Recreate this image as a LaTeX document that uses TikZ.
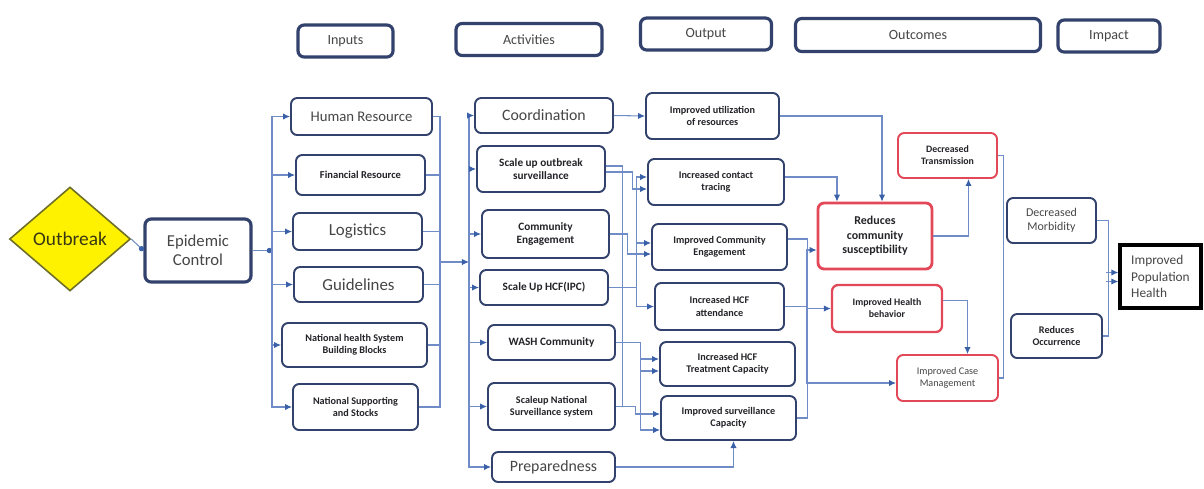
\documentclass[tikz,border=0pt]{standalone}
\usepackage{fontspec}
\setmainfont{Carlito}
\usetikzlibrary{shapes.geometric,arrows.meta,calc}
\definecolor{boxnavy}{RGB}{50,66,108}
\definecolor{txtgrey}{RGB}{70,70,70}
\definecolor{txtdark}{RGB}{35,35,40}
\definecolor{outred}{RGB}{226,72,88}
\definecolor{linkblue}{RGB}{112,140,198}
\definecolor{tipblue}{RGB}{58,96,168}
\definecolor{diamondline}{RGB}{110,110,40}
\begin{document}
\begin{tikzpicture}[x=0.02cm,y=-0.02cm,
    box/.style={draw=boxnavy, line width=1.1pt, rounded corners=3.5pt, fill=white, align=center,
      text=txtgrey, inner sep=1pt, font=\fontsize{9}{10}\selectfont},
    headbox/.style={box, line width=1.8pt, font=\fontsize{8}{9}\selectfont},
    smallbox/.style={box, text=txtdark, font=\bfseries\fontsize{5.8}{7}\selectfont},
    redbox/.style={smallbox, draw=outred},
    link/.style={draw=linkblue, line width=0.6pt},
    arr/.style={link, -{Latex[length=4pt,width=3.6pt,color=tipblue]}},
    dotlink/.style={link, -{Circle[length=3pt,color=tipblue]}}]
    \useasboundingbox (0,0) rectangle (1204,488);

    % column headers
    \node[headbox, minimum width=1.9cm, minimum height=0.64cm] (hIn) at (345.5,41) {Inputs};
    \node[headbox, minimum width=2.92cm, minimum height=0.64cm] (hAct) at (529,39.5) {Activities};
    \node[headbox, minimum width=2.62cm, minimum height=0.64cm] (hOut) at (706,34) {Output};
    \node[headbox, minimum width=4.9cm, minimum height=0.66cm] (hOutc) at (918,35) {Outcomes};
    \node[headbox, minimum width=2.04cm, minimum height=0.64cm] (hImp) at (1109,36) {Impact};

    % start
    \node[diamond, draw=diamondline, fill=yellow, line width=0.9pt, inner sep=0pt,
      minimum width=2.42cm, minimum height=2.08cm, text={rgb,255:red,55;green,55;blue,20},
      font=\fontsize{11}{12}\selectfont] (out) at (70,239) {Outbreak};
    \node[box, line width=1.8pt, minimum width=2.12cm, minimum height=1.26cm,
      font=\fontsize{9.5}{11}\selectfont] (epi) at (198,250.5) {Epidemic\\Control};

    % inputs
    \node[box, minimum width=2.82cm, minimum height=0.74cm, font=\fontsize{8.4}{10}\selectfont] (iHR) at (361.5,116.5) {Human Resource};
    \node[smallbox, minimum width=2.58cm, minimum height=0.8cm, font=\bfseries\fontsize{6}{7}\selectfont] (iFin) at (360.5,175) {Financial Resource};
    \node[box, minimum width=2.58cm, minimum height=0.74cm, font=\fontsize{9.6}{11}\selectfont] (iLog) at (357.5,231.5) {Logistics};
    \node[box, minimum width=2.58cm, minimum height=0.7cm, font=\fontsize{9.6}{11}\selectfont] (iGui) at (358.5,284.5) {Guidelines};
    \node[smallbox, minimum width=2.9cm, minimum height=0.88cm] (iNHS) at (354.5,345) {National health System\\Building Blocks};
    \node[smallbox, minimum width=2.5cm, minimum height=0.92cm] (iNSS) at (355.5,407) {National Supporting\\and Stocks};

    % activities
    \node[box, minimum width=2.76cm, minimum height=0.7cm] (aCoo) at (544,115.5) {Coordination};
    \node[smallbox, minimum width=2.56cm, minimum height=0.92cm, font=\bfseries\fontsize{6.4}{7.6}\selectfont] (aSus) at (541,169) {Scale up outbreak\\surveillance};
    \node[smallbox, minimum width=2.54cm, minimum height=0.96cm, font=\bfseries\fontsize{6.4}{7.6}\selectfont] (aCom) at (545.5,234) {Community\\Engagement};
    \node[smallbox, minimum width=2.56cm, minimum height=0.7cm, font=\bfseries\fontsize{6.4}{7.6}\selectfont] (aHcf) at (544,287.5) {Scale Up HCF(IPC)};
    \node[smallbox, minimum width=2.54cm, minimum height=0.7cm, font=\bfseries\fontsize{6.4}{7.6}\selectfont] (aWash) at (551.5,342.5) {WASH Community};
    \node[smallbox, minimum width=2.54cm, minimum height=0.94cm] (aSns) at (551.5,406.5) {Scaleup National\\Surveillance system};
    \node[box, minimum width=2.46cm, minimum height=0.6cm] (aPrep) at (553.5,467) {Preparedness};

    % outputs
    \node[smallbox, minimum width=2.66cm, minimum height=0.92cm] (oUti) at (712.5,116) {Improved utilization\\of resources};
    \node[smallbox, minimum width=2.72cm, minimum height=0.92cm] (oCon) at (716,182) {Increased contact\\tracing};
    \node[smallbox, minimum width=2.7cm, minimum height=0.92cm] (oEng) at (719.5,247) {Improved Community\\Engagement};
    \node[smallbox, minimum width=2.58cm, minimum height=0.94cm] (oAtt) at (719.5,306.5) {Increased HCF\\attendance};
    \node[smallbox, minimum width=2.7cm, minimum height=0.88cm] (oTre) at (727.5,364) {Increased HCF\\Treatment Capacity};
    \node[smallbox, minimum width=2.7cm, minimum height=0.88cm] (oSur) at (728.5,418) {Improved surveillance\\Capacity};

    % outcomes
    \node[redbox, minimum width=1.98cm, minimum height=0.9cm, font=\bfseries\fontsize{5.6}{6.8}\selectfont] (cTra) at (947.5,155.5) {Decreased\\Transmission};
    \node[redbox, line width=1.6pt, minimum width=2.28cm, minimum height=1.32cm, font=\bfseries\fontsize{6.8}{8.2}\selectfont] (cSus) at (875,236) {Reduces\\community\\susceptibility};
    \node[redbox, line width=1.3pt, minimum width=2.2cm, minimum height=0.94cm, font=\bfseries\fontsize{5.6}{6.8}\selectfont] (cBeh) at (887,308.5) {Improved Health\\behavior};
    \node[redbox, minimum width=2.02cm, minimum height=0.92cm, text=txtgrey, font=\fontsize{5.8}{7}\selectfont] (cCas) at (947.5,378) {Improved Case\\Management};

    % impact
    \node[box, minimum width=1.78cm, minimum height=0.9cm, font=\fontsize{6.8}{8}\selectfont] (mMor) at (1051.5,220.5) {Decreased\\Morbidity};
    \node[smallbox, minimum width=1.82cm, minimum height=0.88cm] (mOcc) at (1056.5,336) {Reduces\\Occurrence};
    \node[draw=black, line width=1.8pt, fill=white, text=txtgrey, align=left, inner sep=2pt,
      minimum width=1.62cm, minimum height=1.26cm, font=\fontsize{7.6}{9.4}\selectfont] (mPop) at (1160.5,276.5) {Improved\\Population\\Health};

    % outbreak to inputs
    \coordinate (tIn) at (272,250.5);
    \draw[dotlink] (out.east) -- (epi.west);
    \draw[dotlink] (epi.east) -- (tIn);
    \foreach \n in {iHR,iFin,iLog,iGui,iNHS,iNSS}
      \draw[arr] (tIn) |- (\n.west);

    % inputs to activities
    \coordinate (cIn) at (440,262);
    \coordinate (tAct) at (469,262);
    \foreach \n in {iHR,iFin,iLog,iGui,iNHS,iNSS}
      \draw[link] (\n.east) -| (cIn);
    \draw[arr] (cIn) -- (tAct);
    \foreach \n in {aCoo,aSus,aCom,aHcf,aWash,aSns,aPrep}
      \draw[arr] (tAct) |- (\n.west);

    % activities to outputs
    \draw[arr] (aCoo.east) -- (oUti.west);
    \draw[arr] ($(aSus.east)+(0,3)$) -- ++(27,0) |- ($(oCon.west)+(0,7)$);
    \draw[link] ($(aSus.east)+(0,-3)$) -- ++(17,0) |- (aSns.east);
    \draw[arr] (aSns.east) -- ++(20,0) |- ($(oSur.west)+(0,-4)$);
    \draw[arr] (aCom.east) -- ++(18,0) |- ($(oEng.west)+(0,7)$);
    \draw[arr] (aHcf.east) -- ++(28,0) |- ($(oCon.west)+(0,-5)$);
    \draw[arr] (aHcf.east) -- ++(28,0) |- ($(oEng.west)+(0,-4)$);
    \draw[arr] (aHcf.east) -- ++(28,0) |- (oAtt.west);
    \draw[arr] (aWash.east) -- ++(25,0) |- ($(oTre.west)+(0,-5)$);
    \draw[arr] (aWash.east) -- ++(25,0) |- ($(oTre.west)+(0,7)$);
    \draw[arr] (aWash.east) -- ++(25,0) |- ($(oSur.west)+(0,12)$);
    \draw[arr] (aPrep.east) -| ($(oSur.south)+(5,0)$);

    % outputs to outcomes
    \coordinate (hub) at (807,300);
    \draw[arr] (oUti.east) -| ($(cSus.north)+(7,0)$);
    \draw[arr] ($(oCon.east)+(0,-5)$) -| ($(cSus.north)+(-38,0)$);
    \draw[link] ($(oEng.east)+(0,-8)$) -- ++(20,0) |- (oSur.east);
    \draw[link] (oAtt.east) -- (oAtt.east -| hub);
    \draw[arr] (hub) |- ($(cSus.west)+(0,14)$);
    \draw[arr] (hub) |- (cBeh.west);
    \draw[arr] (hub) |- ($(cCas.west)+(0,5)$);
    \draw[arr] (cSus.east) -| ($(cTra.south)+(21,0)$);
    \draw[arr] ($(cBeh.east)+(0,-8)$) -| ($(cCas.north)+(20,0)$);

    % outcomes to impact
    \draw[link] (cTra.east) -- ++(6,0) |- (cCas.east);
    \draw[link] (mMor.east) -- ++(12,0) |- (mOcc.east);
    \draw[arr] ($(mPop.west)+(-12,-4)$) -- ($(mPop.west)+(0,-4)$);
    \draw[arr] ($(mPop.west)+(-12,5)$) -- ($(mPop.west)+(0,5)$);
\end{tikzpicture}
\end{document}
